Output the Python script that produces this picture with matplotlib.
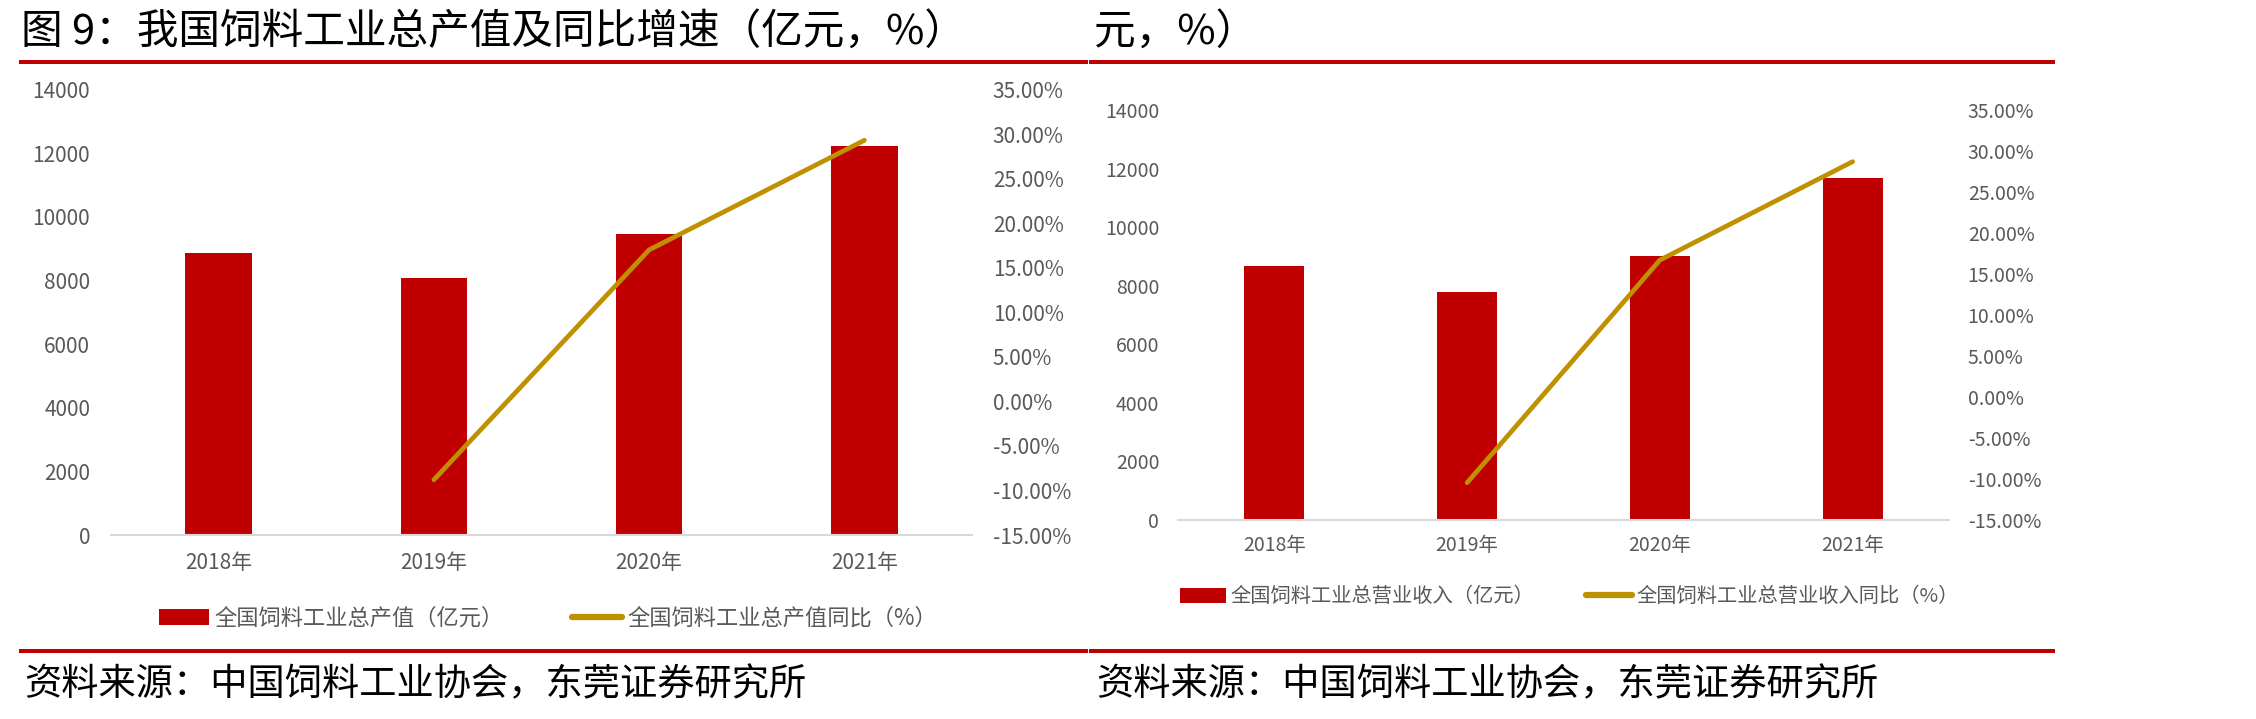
import numpy as np
import matplotlib
matplotlib.use("Agg")
import matplotlib.pyplot as plt
from matplotlib.lines import Line2D
from matplotlib.patches import Patch
from matplotlib.ticker import FuncFormatter

plt.rcParams['font.family'] = ['Noto Sans CJK SC', 'DejaVu Sans']

# ---------------- data ----------------
years = ['2018年', '2019年', '2020年', '2021年']
output_value = [8872, 8088, 9463, 12234]          # 亿元
output_yoy = [np.nan, -8.8, 17.0, 29.3]            # %
revenue = [8689, 7775, 9015, 11668]                # 亿元
revenue_yoy = [np.nan, -10.45, 16.7, 28.7]         # %

left_bar_label = '全国饲料工业总产值（亿元）'
left_line_label = '全国饲料工业总产值同比（%）'
right_bar_label = '全国饲料工业总营业收入（亿元）'
right_line_label = '全国饲料工业总营业收入同比（%）'

title_left = '图 9：我国饲料工业总产值及同比增速（亿元，%）'
title_right = '元，%）'
source_text = '资料来源：中国饲料工业协会，东莞证券研究所'

y1_ticks = np.arange(0, 14001, 2000)
y2_ticks = np.arange(-15, 35.01, 5)

# ---------------- style ----------------
BAR_C = '#C00000'
LINE_C = '#BF9000'
TXT_C = '#595959'
AXIS_C = '#D9D9D9'
RED = '#C00000'

W, H = 2256, 719
fig = plt.figure(figsize=(W / 100, H / 100), dpi=100)


def px_axes(x0, x1, ytop, ybot):
    return fig.add_axes([x0 / W, (H - ybot) / H, (x1 - x0) / W, (ybot - ytop) / H])


def draw_panel(ax, bars, yoy, fs, pad_y, pad_x, bar_w):
    x = np.arange(len(years))
    ax.bar(x, bars, width=bar_w, color=BAR_C, zorder=2)
    ax.set_xlim(-0.5, len(years) - 0.5)
    ax.set_ylim(0, 14000)
    ax.set_yticks(y1_ticks)
    ax.set_xticks(x)
    ax.set_xticklabels(years)
    for s in ['top', 'left', 'right']:
        ax.spines[s].set_visible(False)
    ax.spines['bottom'].set_color(AXIS_C)
    ax.spines['bottom'].set_linewidth(1.5)
    ax.tick_params(axis='y', length=0, pad=pad_y, labelsize=fs, labelcolor=TXT_C)
    ax.tick_params(axis='x', length=0, pad=pad_x, labelsize=fs, labelcolor=TXT_C)

    ax2 = ax.twinx()
    ax2.plot(x, yoy, color=LINE_C, lw=3.4, solid_capstyle='round', zorder=3)
    ax2.set_ylim(-15, 35)
    ax2.set_yticks(y2_ticks)
    ax2.yaxis.set_major_formatter(FuncFormatter(lambda v, p: f'{v:.2f}%'))
    for s in ['top', 'left', 'right', 'bottom']:
        ax2.spines[s].set_visible(False)
    ax2.tick_params(axis='y', length=0, pad=pad_y, labelsize=fs, labelcolor=TXT_C)
    return ax2


# left panel
axL = px_axes(111, 972, 89.5, 535)
draw_panel(axL, output_value, output_yoy, fs=15, pad_y=15, pad_x=12, bar_w=0.31)
# right panel
axR = px_axes(1178, 1949, 110, 520)
draw_panel(axR, revenue, revenue_yoy, fs=14, pad_y=13.5, pad_x=11, bar_w=0.31)


def add_legend(bar_label, line_label, cx, cy, fs, colsp):
    handles = [Patch(facecolor=BAR_C, edgecolor='none'),
               Line2D([], [], color=LINE_C, lw=4.5, solid_capstyle='round')]
    leg = fig.legend(handles, [bar_label, line_label], loc='center',
                     bbox_to_anchor=(cx / W, (H - cy) / H), ncol=2,
                     frameon=False, fontsize=fs, handlelength=2.25,
                     handletextpad=0.25, columnspacing=colsp,
                     borderpad=0, borderaxespad=0)
    for t in leg.get_texts():
        t.set_color(TXT_C)


add_legend(left_bar_label, left_line_label, 548, 618, 16, 3.1)
add_legend(right_bar_label, right_line_label, 1569.6, 597, 14.6, 2.55)

# titles
fig.text(21 / W, (H - 32) / H, title_left, fontsize=30, va='center', ha='left', color='black')
fig.text(1094 / W, (H - 32) / H, title_right, fontsize=30, va='center', ha='left', color='black')

# red rules
for (xa, xb) in [(21, 1086), (1091, 2053)]:
    for y, lw in [(62, 4), (651, 4)]:
        fig.add_artist(Line2D([xa / W, xb / W], [(H - y) / H, (H - y) / H],
                              color=RED, lw=lw * 0.72, transform=fig.transFigure))

# sources
fig.text(24 / W, (H - 685) / H, source_text, fontsize=26.8, va='center', ha='left', color='black')
fig.text(1096 / W, (H - 685) / H, source_text, fontsize=26.8, va='center', ha='left', color='black')

fig.savefig('out.png', dpi=100)
